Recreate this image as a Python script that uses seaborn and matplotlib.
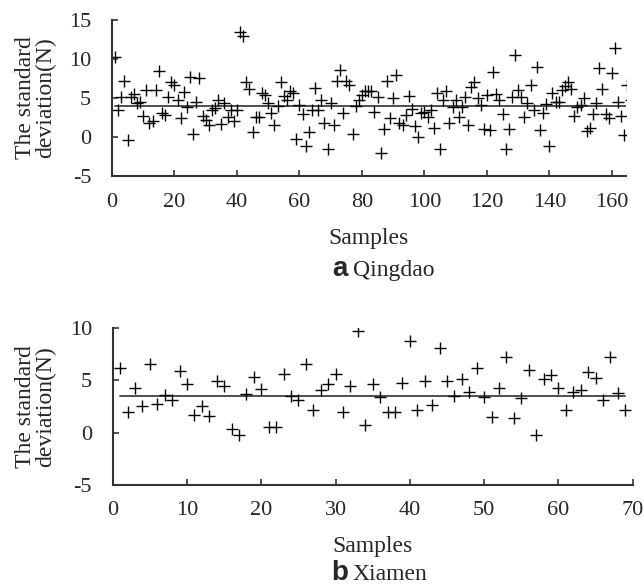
import numpy as np
import pandas as pd
import matplotlib
matplotlib.use("Agg")
import matplotlib.pyplot as plt
import seaborn as sns

# ---- data ----
qingdao_sd = [10.3, 3.5, 5.1, 7.2, -0.4, 5.1, 5.5, 4.4, 4.5, 2.7,
              6.0, 1.8, 2.0, 6.0, 8.5, 3.1, 2.8, 5.1, 7.0, 6.7,
              4.8, 2.4, 5.8, 3.9, 7.7, 0.4, 4.5, 7.5, 2.7, 2.2,
              1.5, 3.4, 3.7, 4.7, 1.7, 4.3, 2.6, 3.4, 2.0, 3.4,
              13.5, 13.0, 7.1, 6.1, 0.7, 2.5, 2.5, 5.6, 5.4, 4.4,
              3.1, 1.5, 4.0, 7.1, 5.3, 4.7, 5.9, 5.6, -0.2, 4.1,
              2.9, -1.2, 0.6, 3.4, 6.3, 3.5, 4.8, 1.8, -1.6, 4.3,
              1.5, 7.2, 8.6, 3.1, 7.2, 6.7, 0.4, 4.0, 4.7, 5.4,
              5.9, 5.9, 5.9, 3.2, 5.1, -2.0, 1.0, 7.2, 2.4, 5.0,
              7.9, 1.8, 1.5, 2.8, 5.3, 3.6, 1.4, 0.0, 3.1, 3.2,
              2.5, 3.5, 1.1, 5.7, -1.6, 4.7, 5.9, 1.8, 3.9, 4.8,
              2.5, 3.9, 5.1, 1.5, 6.4, 7.0, 5.0, 4.1, 1.0, 5.4,
              0.9, 8.3, 5.5, 4.8, 2.9, -1.6, 1.0, 5.1, 10.5, 6.0,
              5.1, 2.6, 4.4, 6.7, 3.5, 9.0, 0.9, 3.1, 4.2, -1.2,
              5.7, 4.5, 4.5, 6.0, 6.5, 7.0, 6.1, 2.7, 3.9, 4.1,
              5.0, 0.8, 1.2, 2.9, 4.4, 8.8, 6.1, 2.9, 2.4, 8.2,
              11.4, 4.5, 2.7, 0.3, 6.7, 4.8]
qingdao_mean = 4.0

xiamen_sd = [6.2, 1.95, 4.3, 2.5, 6.6, 2.7, 3.6, 3.1, 5.9, 4.7,
             1.7, 2.5, 1.6, 4.9, 4.5, 0.3, -0.2, 3.7, 5.3, 4.2,
             0.55, 0.55, 5.65, 3.55, 3.1, 6.6, 2.15, 4.1, 4.7, 5.6,
             2.0, 4.5, 9.7, 0.7, 4.7, 3.45, 2.0, 2.0, 4.8, 8.8,
             2.15, 4.95, 2.65, 8.1, 4.95, 3.55, 5.1, 3.9, 6.2, 3.4,
             1.5, 4.3, 7.2, 1.4, 3.3, 6.0, -0.2, 5.1, 5.5, 4.3,
             2.15, 3.9, 4.05, 5.8, 5.2, 3.1, 7.25, 3.75, 2.15]
xiamen_mean = 3.55

q_xticks = [0, 20, 40, 60, 80, 100, 120, 140, 160]
q_yticks = [-5, 0, 5, 10, 15]
x_xticks = [0, 10, 20, 30, 40, 50, 60, 70]
x_yticks = [-5, 0, 5, 10]

ylabel = "The standard\ndeviation(N)"
xlabel = "Samples"

# ---- style ----
sns.set_style("ticks")
plt.rcParams['font.family'] = ['Liberation Serif', 'DejaVu Serif']
plt.rcParams['xtick.direction'] = 'in'
plt.rcParams['ytick.direction'] = 'in'
plt.rcParams['axes.unicode_minus'] = False

fig = plt.figure(figsize=(6.44, 5.88), dpi=100)
ax1 = fig.add_axes([0.1739, 0.7007, 0.798, 0.2653])
ax2 = fig.add_axes([0.1750, 0.1757, 0.8075, 0.266])

def panel(ax, values, mean, xticks, yticks, xlim, ylim, letter, name, cap_y, xlab_y):
    df = pd.DataFrame({"Samples": np.arange(1, len(values) + 1), "sd": values})
    df["mean"] = mean
    sns.lineplot(data=df, x="Samples", y="mean", ax=ax, color="#404040",
                 linewidth=1.3, zorder=1)
    sns.scatterplot(data=df, x="Samples", y="sd", ax=ax, marker="+",
                    color="black", s=65, linewidth=1.0, zorder=2)
    ax.set_xlim(*xlim)
    ax.set_ylim(*ylim)
    ax.set_xticks(xticks)
    ax.set_yticks(yticks)
    ax.tick_params(labelsize=16, length=4, width=1.2, color="#333333")
    ax.tick_params(axis="x", pad=12)
    ax.tick_params(axis="y", pad=15)
    for s in ["top", "right"]:
        ax.spines[s].set_visible(False)
    for s in ["left", "bottom"]:
        ax.spines[s].set_linewidth(1.5)
        ax.spines[s].set_color("#333333")
    ax.set_xlabel(xlabel, fontsize=17)
    ax.set_ylabel(ylabel, fontsize=17, linespacing=0.95)
    ax.yaxis.set_label_coords(-0.108, 0.5)
    ax.xaxis.set_label_coords(0.5, xlab_y)
    fig.text(0.540, cap_y, letter, fontsize=20, fontweight="bold",
             family="Liberation Sans", ha="right", va="baseline")
    fig.text(0.548, cap_y, name, fontsize=17, ha="left", va="baseline")

panel(ax1, qingdao_sd, qingdao_mean, q_xticks, q_yticks, (0, 164.5), (-5, 15),
      "a", "Qingdao", 1 - 276 / 588, -0.335)
panel(ax2, xiamen_sd, xiamen_mean, x_xticks, x_yticks, (0, 70), (-5, 10),
      "b", "Xiamen", 1 - 580 / 588, -0.325)

fig.savefig("out.png", dpi=100)
